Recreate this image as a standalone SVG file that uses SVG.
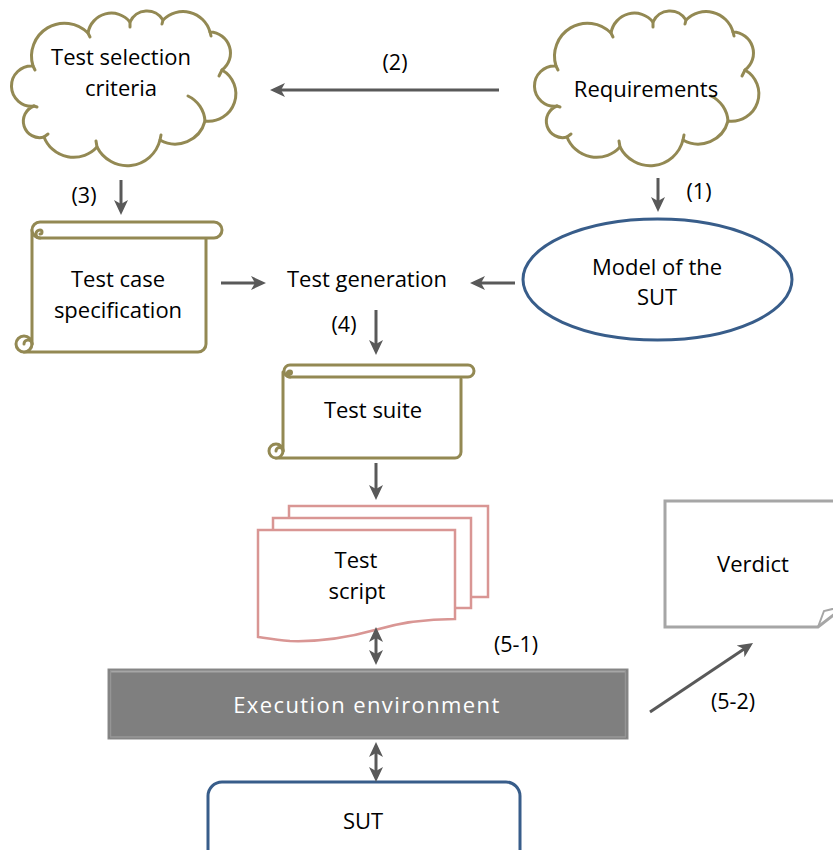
<svg xmlns="http://www.w3.org/2000/svg" xmlns:xlink="http://www.w3.org/1999/xlink" width="833" height="850" viewBox="0 0 833 850">
<style>
text{font-family:"Open Sans","Liberation Sans",sans-serif;font-size:22px;fill:#000;text-anchor:middle}
.olive{fill:#fff;stroke:#938953;stroke-width:3;stroke-linejoin:round;stroke-linecap:round}
.olive-l{fill:none;stroke:#938953;stroke-width:3;stroke-linecap:round}
.pink{fill:#fff;stroke:#d99694;stroke-width:2.5}
.conn{fill:none;stroke:#595959;stroke-width:3}
.lbl{font-size:21.5px}
</style>
<defs>
<marker id="ah" markerUnits="userSpaceOnUse" markerWidth="16" markerHeight="16" viewBox="0 0 16 16" refX="11" refY="8" orient="auto-start-reverse">
<path d="M0,1 L15,8 L0,15 L4,8 Z" fill="#595959"/>
</marker>
<g id="cloud">
<path class="olive" d="M34,106 A20.1,20.1 0 1 1 33,66 A33,33 0 0 1 88,33 A23.8,23.8 0 0 1 130,22 A18.6,18.6 0 0 1 163,20 A28,28 0 0 1 210,32 A21.1,21.1 0 0 1 222,70 A27.4,27.4 0 0 1 205,121 A30.8,30.8 0 0 1 160,140 A33.8,33.8 0 0 1 97,147 A31.7,31.7 0 0 1 44,137 A16.3,16.3 0 0 1 34,106 Z"/>
<path class="olive-l" d="M188,96 A30,30 0 0 1 205,121 M34,106 L37,107 M33,66 L35,70 M88,33 L90,37 M130,22 L130,27 M163,20 L162,24 M210,32 L211,36 M222,70 L219,76 M160,140 L161,135 M97,147 L96,141 M44,137 L48,134"/>
</g>
</defs>

<g id="test-selection-criteria">
<use xlink:href="#cloud"/>
<text x="121" y="65">Test selection</text>
<text x="121" y="96">criteria</text>
</g>

<g id="requirements">
<use xlink:href="#cloud" transform="translate(523,0)"/>
<text x="646" y="97">Requirements</text>
</g>

<g id="test-case-specification">
<rect x="32" y="230" width="174" height="122" fill="#fff"/>
<path class="olive-l" d="M32,230 V344 M24,352 H198 A8,8 0 0 0 206,344 V238"/>
<circle class="olive" cx="24" cy="344" r="8"/>
<path class="olive-l" d="M32,344 A4,4 0 0 0 24,344"/>
<path class="olive" d="M40,222 H214 A8,8 0 0 1 214,238 H40 A8,8 0 0 1 40,222 Z"/>
<path class="olive-l" d="M40,238 A4,4 0 0 1 40,230 A2,2 0 0 1 40,234"/>
<text x="118" y="287">Test case</text>
<text x="118" y="318">specification</text>
</g>

<g id="test-generation">
<text x="367" y="287">Test generation</text>
</g>

<g id="model-of-the-sut">
<ellipse cx="657.5" cy="279.5" rx="134.5" ry="60.5" fill="#fff" stroke="#385d8a" stroke-width="3"/>
<text x="657" y="275">Model of the</text>
<text x="657" y="305">SUT</text>
</g>

<g id="test-suite">
<rect x="283" y="372" width="178" height="86" fill="#fff"/>
<path class="olive-l" d="M283,372 V451 M276,458 H455 A6,6 0 0 0 461,452 V379"/>
<circle class="olive" cx="276" cy="451" r="7"/>
<path class="olive-l" d="M283,451 A3.5,3.5 0 0 0 276,451"/>
<path class="olive" d="M290,365 H468 A6,6 0 0 1 468,377 H290 A6,6 0 0 1 290,365 Z"/>
<path class="olive-l" d="M290,377 A3,3 0 0 1 290,371 A1.5,1.5 0 0 1 290,374"/>
<text x="373" y="418">Test suite</text>
</g>

<g id="test-script">
<rect class="pink" x="289" y="506" width="199" height="91"/>
<rect class="pink" x="273" y="518" width="198" height="90"/>
<path class="pink" d="M258,530 H455 V619 C420,619 395,624 375,630 C350,637 320,642 290,641 C275,640 265,638 258,637 Z"/>
<text x="356" y="568">Test</text>
<text x="357" y="599">script</text>
</g>

<g id="execution-environment">
<rect x="108" y="669" width="520" height="70" fill="#7f7f7f" stroke="#8c8c8c" stroke-width="1"/>
<path d="M110,671.5 H626" stroke="#a6a6a6" stroke-width="2"/>
<path d="M110.5,671 V737 M625.5,671 V737" stroke="#959595" stroke-width="1.5"/>
<path d="M110,737 H626" stroke="#999" stroke-width="1.5"/>
<text x="367" y="713" style="fill:#fff;letter-spacing:1.4px">Execution environment</text>
</g>

<g id="sut">
<rect x="208" y="782" width="312" height="90" rx="14" fill="#fff" stroke="#385d8a" stroke-width="3"/>
<text x="363" y="829">SUT</text>
</g>

<g id="verdict">
<path d="M665,501 H845 V606 L818,627 H665 Z" fill="#fff" stroke="#a6a6a6" stroke-width="3"/>
<path d="M818,627 L824,611 L845,606" fill="none" stroke="#a6a6a6" stroke-width="2"/>
<text x="753" y="572">Verdict</text>
</g>

<g id="connectors">
<path class="conn" d="M499,90 H274" marker-end="url(#ah)"/>
<path class="conn" d="M121,180 V211" marker-end="url(#ah)"/>
<path class="conn" d="M658,178 V208" marker-end="url(#ah)"/>
<path class="conn" d="M221,283 H262" marker-end="url(#ah)"/>
<path class="conn" d="M515,283 H474" marker-end="url(#ah)"/>
<path class="conn" d="M376,310 V351" marker-end="url(#ah)"/>
<path class="conn" d="M376,463 V496" marker-end="url(#ah)"/>
<path class="conn" d="M376,631 V661" marker-start="url(#ah)" marker-end="url(#ah)"/>
<path class="conn" d="M376,746 V778" marker-start="url(#ah)" marker-end="url(#ah)"/>
<path class="conn" d="M650,712 L749.7,645.2" marker-end="url(#ah)"/>
<text class="lbl" x="395" y="70">(2)</text>
<text class="lbl" x="84" y="203">(3)</text>
<text class="lbl" x="699" y="199">(1)</text>
<text class="lbl" x="344" y="332">(4)</text>
<text class="lbl" x="516" y="652">(5-1)</text>
<text class="lbl" x="733" y="709">(5-2)</text>
</g>
</svg>
